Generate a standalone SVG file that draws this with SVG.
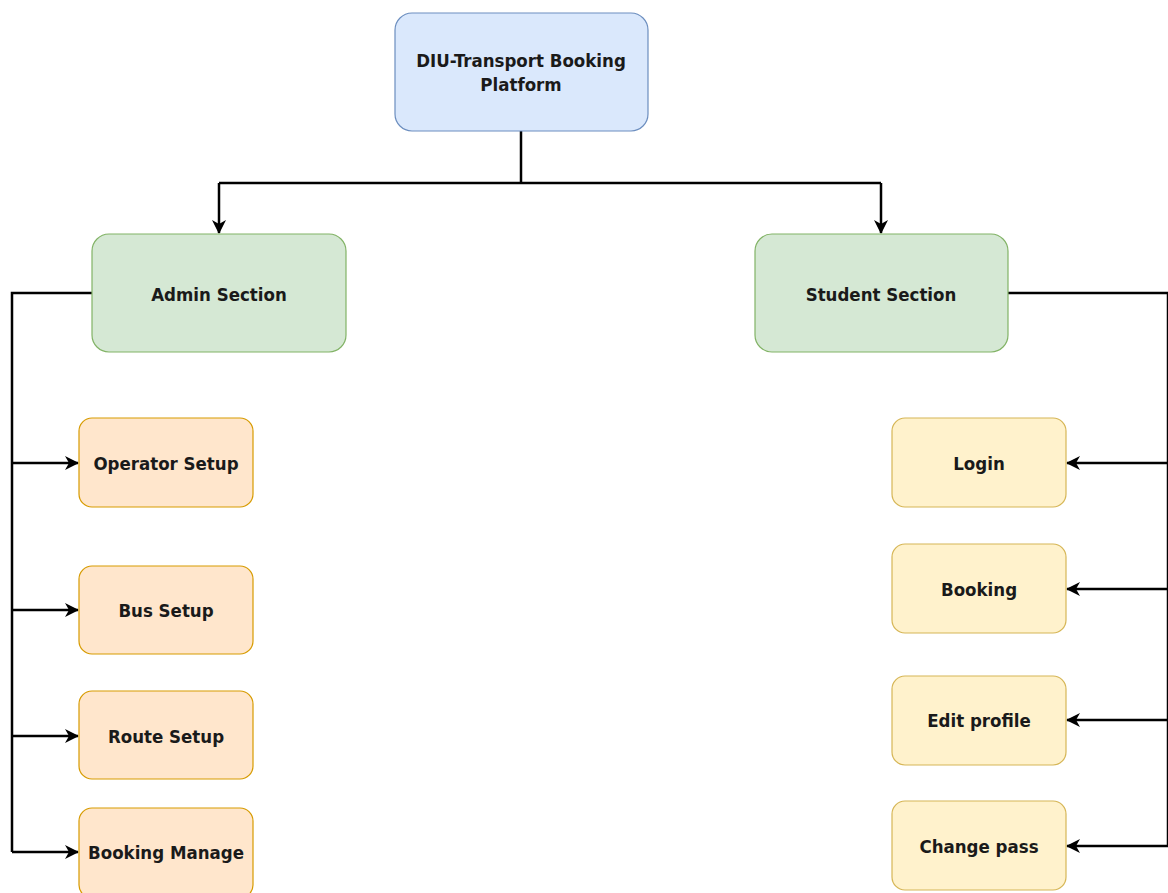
<svg xmlns="http://www.w3.org/2000/svg" width="1168" height="893" viewBox="0 0 1168 893">
<defs>
<style>
.t{font-family:"DejaVu Sans Condensed","DejaVu Sans",sans-serif;font-weight:bold;font-size:18.5px;fill:#1a1a1a;text-anchor:middle;dominant-baseline:central}
.blue{fill:#dae8fc;stroke:#6c8ebf;stroke-width:1.2}
.green{fill:#d5e8d4;stroke:#82b366;stroke-width:1.2}
.orange{fill:#ffe6cc;stroke:#d79b00;stroke-width:1.2}
.yellow{fill:#fff2cc;stroke:#d6b656;stroke-width:1.2}
.c{fill:none;stroke:#000;stroke-width:2.5}
</style>
<marker id="arr" viewBox="0 0 14 14" refX="13" refY="7" markerWidth="14" markerHeight="14" markerUnits="userSpaceOnUse" orient="auto">
<path d="M0,0 L14,7 L0,14 L4,7 Z" fill="#000"/>
</marker>
</defs>
<rect width="1168" height="893" fill="#fff"/>
<g id="connectors">
<path class="c" d="M521,131 V183"/>
<path class="c" d="M219,183 H881"/>
<path class="c" d="M219,183 V233" marker-end="url(#arr)"/>
<path class="c" d="M881,183 V233" marker-end="url(#arr)"/>
<path class="c" d="M92,293 H12 V852"/>
<path class="c" d="M12,463 H78" marker-end="url(#arr)"/>
<path class="c" d="M12,610 H78" marker-end="url(#arr)"/>
<path class="c" d="M12,736 H78" marker-end="url(#arr)"/>
<path class="c" d="M12,852 H78" marker-end="url(#arr)"/>
<path class="c" d="M1008,293 H1168 V846"/>
<path class="c" d="M1168,463 H1067" marker-end="url(#arr)"/>
<path class="c" d="M1168,589 H1067" marker-end="url(#arr)"/>
<path class="c" d="M1168,720 H1067" marker-end="url(#arr)"/>
<path class="c" d="M1168,846 H1067" marker-end="url(#arr)"/>
</g>
<g id="root">
<rect class="blue" x="395" y="13" width="253" height="118" rx="17"/>
<text class="t" x="521" y="60">DIU-Transport Booking</text>
<text class="t" x="521" y="84">Platform</text>
</g>
<g id="admin">
<rect class="green" x="92" y="234" width="254" height="118" rx="17"/>
<text class="t" x="219" y="294">Admin Section</text>
</g>
<g id="student">
<rect class="green" x="755" y="234" width="253" height="118" rx="17"/>
<text class="t" x="881" y="294">Student Section</text>
</g>
<g id="operator">
<rect class="orange" x="79" y="418" width="174" height="89" rx="13"/>
<text class="t" x="166" y="463">Operator Setup</text>
</g>
<g id="bus">
<rect class="orange" x="79" y="566" width="174" height="88" rx="13"/>
<text class="t" x="166" y="610">Bus Setup</text>
</g>
<g id="route">
<rect class="orange" x="79" y="691" width="174" height="88" rx="13"/>
<text class="t" x="166" y="736">Route Setup</text>
</g>
<g id="bookingmanage">
<rect class="orange" x="79" y="808" width="174" height="90" rx="13"/>
<text class="t" x="166" y="852">Booking Manage</text>
</g>
<g id="login">
<rect class="yellow" x="892" y="418" width="174" height="89" rx="13"/>
<text class="t" x="979" y="463">Login</text>
</g>
<g id="booking">
<rect class="yellow" x="892" y="544" width="174" height="89" rx="13"/>
<text class="t" x="979" y="589">Booking</text>
</g>
<g id="editprofile">
<rect class="yellow" x="892" y="676" width="174" height="89" rx="13"/>
<text class="t" x="979" y="720">Edit profile</text>
</g>
<g id="changepass">
<rect class="yellow" x="892" y="801" width="174" height="89" rx="13"/>
<text class="t" x="979" y="846">Change pass</text>
</g>
</svg>
